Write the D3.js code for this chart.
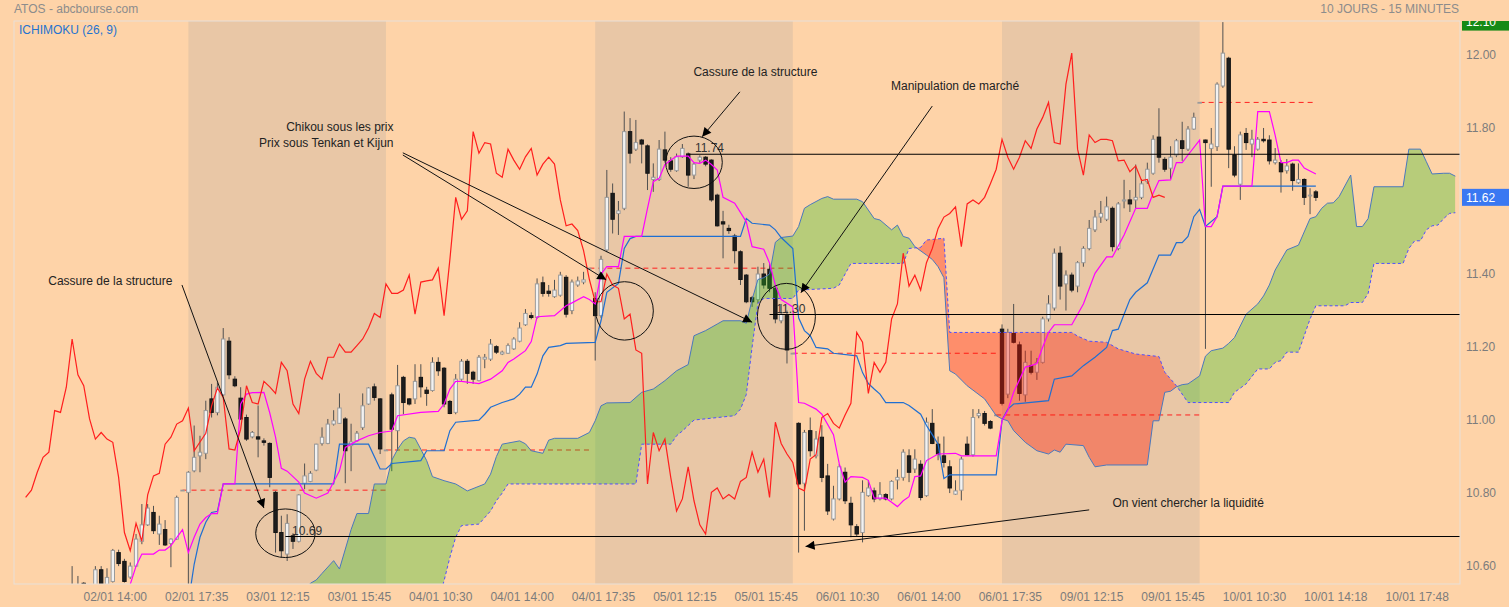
<!DOCTYPE html>
<html>
<head>
<meta charset="utf-8">
<script src="https://cdn.jsdelivr.net/npm/d3@7"></script>
<style>
  body { margin: 0; background: #fed3a8; }
  svg { display: block; font-family: Arial, "Liberation Sans", sans-serif; }
</style>
</head>
<body>
<svg id="chart" width="1509" height="607"></svg>
<script>
// --- data: one candle per 15 min slot, slot 15 .. 229 ---
const firstSlot = 15;
const opens = [10.53,10.52,10.553,10.50,10.53,10.59,10.54,10.558,10.637,10.613,10.57,10.60,10.668,10.713,10.747,10.688,10.70,10.662,10.674,10.808,
  10.802,10.861,10.902,10.909,11.058,11.021,11.069,11.216,11.112,11.06,11.007,10.954,10.954,10.943,10.936,10.802,10.692,10.633,10.683,10.668,
  10.827,10.832,10.863,10.936,10.936,10.989,10.991,11.003,10.93,10.943,10.98,11.044,11.091,11.058,10.918,11.069,10.971,11.117,11.058,11.058,
  11.117,11.082,11.081,11.158,11.142,11.051,11.021,11.112,11.161,11.131,11.108,11.167,11.167,11.201,11.181,11.183,11.195,11.216,11.261,11.286,
  11.281,11.376,11.353,11.338,11.342,11.391,11.30,11.37,11.378,11.416,11.333,11.286,11.466,11.621,11.566,11.58,11.79,11.742,11.767,11.751,
  11.659,11.659,11.74,11.71,11.683,11.721,11.729,11.671,11.712,11.72,11.712,11.616,11.543,11.525,11.504,11.461,11.397,11.335,11.33,11.40,
  11.413,11.361,11.272,11.286,11.183,10.991,10.827,10.971,10.902,10.953,10.847,10.729,10.784,10.857,10.772,10.708,10.692,10.793,10.806,10.784,
  10.796,10.784,10.836,10.843,10.902,10.866,10.879,10.793,10.991,10.934,10.902,10.872,10.797,10.808,10.934,10.905,11.012,11.018,10.996,11.014,
  11.249,11.071,11.237,11.206,11.069,11.149,11.131,11.158,11.277,11.307,11.457,11.373,11.397,11.367,11.431,11.47,11.521,11.556,11.55,11.58,
  11.47,11.60,11.603,11.603,11.61,11.653,11.676,11.775,11.714,11.69,11.726,11.765,11.742,11.797,11.87,11.767,11.744,11.749,11.915,11.991,
  11.726,11.646,11.785,11.756,11.742,11.769,11.767,11.705,11.705,11.683,11.701,11.65,11.659,11.616,11.625];
const highs = [10.60,10.573,10.556,10.54,10.60,10.60,10.594,10.647,10.645,10.62,10.61,10.688,10.77,10.77,10.765,10.738,10.726,10.676,10.793,10.808,
  10.86,10.985,10.957,11.053,11.099,11.103,11.252,11.227,11.12,11.09,11.015,10.97,11.04,10.95,10.939,10.806,10.738,10.742,10.69,10.797,
  10.881,10.86,10.935,10.98,11.003,11.027,11.073,11.008,10.99,10.97,11.073,11.09,11.10,11.06,10.918,11.075,11.151,11.121,11.06,11.153,
  11.153,11.091,11.172,11.172,11.145,11.055,11.126,11.167,11.167,11.135,11.178,11.181,11.222,11.205,11.19,11.21,11.227,11.268,11.304,11.295,
  11.388,11.393,11.37,11.384,11.406,11.397,11.385,11.393,11.406,11.416,11.35,11.45,11.685,11.648,11.60,11.845,11.827,11.822,11.77,11.755,
  11.703,11.767,11.79,11.72,11.73,11.756,11.733,11.705,11.725,11.723,11.714,11.62,11.573,11.535,11.51,11.465,11.40,11.34,11.42,11.43,
  11.43,11.37,11.318,11.30,11.183,10.994,10.973,11.007,10.97,10.986,10.88,10.82,10.88,10.87,10.79,10.715,10.835,10.835,10.815,10.83,
  10.80,10.835,10.865,10.92,10.92,10.92,10.89,11.007,11.03,10.955,10.955,10.89,10.835,10.90,10.955,11.03,11.03,11.025,11.0,11.014,
  11.262,11.25,11.318,11.215,11.19,11.19,11.17,11.283,11.342,11.47,11.476,11.41,11.404,11.435,11.476,11.548,11.575,11.60,11.612,11.585,
  11.597,11.658,11.63,11.70,11.66,11.705,11.78,11.854,11.72,11.75,11.77,11.817,11.805,11.842,11.87,11.768,11.80,11.925,12.09,11.995,
  11.75,11.79,11.80,11.795,11.775,11.80,11.78,11.745,11.712,11.715,11.705,11.703,11.662,11.635,11.63];
const lows = [10.47,10.48,10.50,10.48,10.52,10.53,10.53,10.555,10.60,10.555,10.565,10.598,10.66,10.71,10.688,10.658,10.655,10.597,10.672,10.808,
  10.40,10.857,10.857,10.893,11.007,11.013,11.066,11.112,11.09,11.0,10.943,10.95,10.898,10.93,10.816,10.637,10.623,10.614,10.647,10.665,
  10.811,10.83,10.86,10.93,10.934,10.985,10.99,10.827,10.86,10.94,10.973,11.042,11.053,10.907,10.918,10.86,10.916,11.016,11.04,11.044,
  11.062,11.039,11.078,11.121,11.035,11.016,11.016,11.108,11.099,11.099,11.106,11.142,11.162,11.181,11.178,11.181,11.192,11.213,11.258,11.276,
  11.278,11.338,11.338,11.335,11.338,11.281,11.29,11.365,11.372,11.416,11.163,11.28,11.46,11.511,11.507,11.575,11.703,11.737,11.703,11.63,
  11.625,11.655,11.705,11.68,11.68,11.718,11.639,11.66,11.705,11.695,11.598,11.53,11.443,11.51,11.429,11.37,11.32,11.31,11.32,11.36,
  11.35,11.265,11.265,11.155,11.183,10.637,10.697,10.90,10.895,10.83,10.74,10.725,10.78,10.77,10.679,10.68,10.665,10.79,10.775,10.78,
  10.78,10.78,10.81,10.834,10.83,10.855,10.78,10.79,10.934,10.89,10.87,10.80,10.795,10.78,10.903,10.90,11.005,10.985,10.975,11.014,
  11.04,11.06,11.21,11.053,11.05,11.125,11.11,11.155,11.27,11.30,11.33,11.30,11.35,11.35,11.42,11.465,11.515,11.54,11.545,11.462,
  11.465,11.58,11.57,11.58,11.605,11.647,11.672,11.705,11.68,11.66,11.72,11.71,11.737,11.795,11.87,11.195,11.639,11.737,11.91,11.69,
  11.665,11.603,11.74,11.72,11.738,11.76,11.70,11.70,11.623,11.675,11.628,11.647,11.589,11.564,11.60];
const closes = [10.50,10.54,10.52,10.53,10.59,10.54,10.569,10.643,10.607,10.558,10.60,10.674,10.713,10.759,10.697,10.715,10.658,10.674,10.788,10.808,
  10.857,10.898,10.912,11.026,11.021,11.09,11.222,11.124,11.094,11.003,10.948,10.966,10.948,10.939,10.843,10.692,10.642,10.717,10.668,10.795,
  10.847,10.854,10.934,10.953,10.989,10.998,11.033,10.916,10.94,10.964,11.039,11.088,11.062,10.921,10.918,10.975,11.094,11.048,11.044,11.106,
  11.091,11.073,11.158,11.135,11.044,11.018,11.112,11.161,11.128,11.112,11.172,11.172,11.208,11.186,11.186,11.204,11.222,11.252,11.292,11.281,
  11.373,11.347,11.347,11.356,11.397,11.29,11.378,11.381,11.384,11.416,11.286,11.44,11.61,11.55,11.573,11.79,11.731,11.76,11.756,11.676,
  11.665,11.742,11.712,11.687,11.721,11.744,11.671,11.701,11.72,11.701,11.603,11.532,11.537,11.519,11.464,11.385,11.324,11.324,11.40,11.37,
  11.361,11.277,11.29,11.192,11.183,10.825,10.966,10.916,10.948,10.843,10.751,10.784,10.872,10.779,10.713,10.688,10.802,10.814,10.784,10.796,
  10.784,10.832,10.843,10.912,10.857,10.893,10.788,10.994,10.936,10.907,10.884,10.814,10.806,10.893,10.905,11.007,11.018,10.991,10.978,11.014,
  11.046,11.24,11.213,11.073,11.158,11.131,11.158,11.277,11.318,11.457,11.367,11.397,11.356,11.431,11.47,11.525,11.556,11.566,11.584,11.475,
  11.592,11.603,11.592,11.61,11.647,11.687,11.769,11.72,11.687,11.72,11.765,11.744,11.797,11.829,11.87,11.76,11.756,11.92,12.005,11.742,
  11.671,11.781,11.76,11.769,11.769,11.765,11.71,11.712,11.68,11.696,11.656,11.659,11.61,11.616,11.61];

// closing-auction bars: the dashed red line holds that close through the next session
const closingSlots = [34, 69, 104, 139, 174, 209];
const shadedDays = [[35, 69], [105, 139], [175, 209]];
const chikouShift = 26;

// Ichimoku lines, [slot, price]
const tenkan = [[24,10.50],[25,10.55],[26,10.60],[27,10.633],[29,10.633],[30,10.644],[31,10.644],[32,10.656],[34,10.70],[35,10.637],
  [36,10.679],[37,10.715],[38,10.733],[39,10.744],[40,10.744],[41,10.825],[43,10.825],[44,11.044],[45,11.071],[46,11.075],[48,11.076],
  [49,11.02],[50,10.953],[51,10.868],[52,10.86],[54,10.83],[55,10.80],[57,10.786],[59,10.80],[61,10.861],[62,10.925],[64,10.943],
  [66,10.957],[68,10.966],[70,10.97],[71,11.012],[75,11.021],[78,11.024],[79,11.044],[80,11.085],[81,11.106],[82,11.106],[85,11.10],
  [87,11.112],[89,11.135],[90,11.158],[91,11.167],[93,11.19],[94,11.215],[95,11.283],[98,11.286],[100,11.313],[101,11.321],[103,11.338],
  [104,11.33],[105,11.318],[106,11.40],[107,11.42],[109,11.42],[110,11.503],[113,11.503],[114,11.58],[115,11.653],[116,11.662],[117,11.70],
  [119,11.723],[121,11.723],[122,11.705],[123,11.703],[124,11.712],[125,11.70],[126,11.685],[127,11.61],[129,11.594],[131,11.543],
  [132,11.475],[134,11.468],[135,11.43],[136,11.37],[137,11.33],[139,11.31],[140,11.048],[141,11.046],[143,11.03],[144,11.016],
  [146,10.96],[147,10.88],[148,10.83],[149,10.845],[151,10.843],[152,10.835],[153,10.786],[155,10.786],[156,10.775],[157,10.763],
  [158,10.779],[159,10.79],[160,10.845],[161,10.847],[162,10.889],[164,10.907],[167,10.909],[168,10.902],[174,10.902],[175,10.998],
  [176,11.027],[177,11.076],[179,11.145],[180,11.149],[181,11.155],[182,11.20],[183,11.24],[184,11.261],[187,11.261],[189,11.318],
  [191,11.402],[193,11.447],[194,11.447],[196,11.507],[198,11.58],[200,11.58],[201,11.621],[202,11.656],[204,11.658],[205,11.705],
  [206,11.705],[207,11.726],[209,11.767],[210,11.53],[211,11.53],[212,11.557],[213,11.641],[218,11.641],[219,11.845],[221,11.845],
  [222,11.78],[223,11.705],[224,11.705],[225,11.712],[226,11.712],[227,11.69],[229,11.674]];

const kijun = [[35,10.50],[36,10.605],[37,10.679],[38,10.72],[39,10.747],[40,10.75],[41,10.825],[60,10.825],[61,10.934],[66,10.934],
  [68,10.866],[69,10.866],[70,10.881],[75,10.889],[76,10.916],[79,10.916],[80,10.971],[81,10.994],[85,11.0],[86,11.016],[87,11.035],
  [89,11.048],[91,11.058],[92,11.071],[93,11.09],[94,11.09],[95,11.126],[96,11.176],[97,11.199],[99,11.204],[100,11.21],[105,11.213],
  [106,11.272],[107,11.35],[109,11.374],[110,11.47],[111,11.497],[112,11.503],[130,11.503],[131,11.552],[132,11.539],[135,11.534],
  [136,11.521],[137,11.50],[139,11.47],[140,11.28],[141,11.245],[142,11.231],[143,11.199],[145,11.195],[146,11.183],[150,11.176],
  [151,11.13],[152,11.10],[153,11.085],[154,11.071],[155,11.048],[158,11.048],[159,11.04],[161,11.016],[162,10.985],[163,10.96],
  [164,10.934],[165,10.84],[166,10.85],[174,10.85],[175,11.0],[176,11.03],[177,11.044],[183,11.053],[184,11.112],[187,11.121],
  [189,11.149],[191,11.172],[193,11.199],[194,11.245],[195,11.249],[196,11.29],[197,11.33],[198,11.35],[200,11.376],[202,11.452],
  [204,11.452],[205,11.486],[206,11.486],[207,11.503],[208,11.557],[209,11.577],[210,11.53],[212,11.557],[213,11.641],[229,11.641]];

const senkouA = [[53,10.50],[56,10.553],[57,10.562],[58,10.58],[60,10.615],[61,10.592],[63,10.70],[64,10.744],[66,10.744],[67,10.825],
  [69,10.825],[70,10.89],[71,10.92],[72,10.943],[73,10.953],[74,10.95],[75,10.92],[76,10.889],[77,10.845],[79,10.834],[81,10.825],
  [83,10.806],[86,10.825],[87,10.852],[88,10.90],[89,10.934],[92,10.943],[93,10.935],[94,10.916],[96,10.909],[97,10.945],[98,10.95],
  [102,10.95],[104,10.966],[105,10.998],[106,11.039],[107,11.047],[111,11.048],[113,11.076],[115,11.085],[117,11.108],[119,11.135],
  [121,11.152],[122,11.231],[124,11.245],[126,11.263],[127,11.272],[130,11.272],[131,11.265],[132,11.33],[133,11.385],[134,11.39],
  [135,11.40],[136,11.487],[137,11.50],[139,11.504],[140,11.53],[141,11.58],[142,11.59],[144,11.607],[145,11.612],[146,11.605],
  [150,11.605],[151,11.598],[153,11.552],[154,11.548],[156,11.521],[157,11.534],[158,11.503],[159,11.498],[160,11.475],[162,11.452],
  [163,11.44],[164,11.42],[165,11.39],[166,11.135],[167,11.126],[169,11.094],[172,11.058],[173,11.035],[174,11.012],[175,11.003],
  [176,10.998],[177,10.971],[179,10.939],[181,10.916],[183,10.907],[184,10.918],[185,10.912],[186,10.934],[189,10.93],[190,10.898],
  [191,10.872],[193,10.877],[200,10.877],[201,10.998],[202,10.998],[203,11.076],[204,11.079],[205,11.091],[206,11.097],[207,11.099],
  [209,11.121],[210,11.175],[211,11.19],[213,11.197],[214,11.21],[215,11.226],[217,11.29],[219,11.318],[220,11.34],[221,11.37],
  [222,11.411],[224,11.466],[226,11.479],[228,11.552],[229,11.557],[230,11.58],[231,11.594],[232,11.595],[233,11.612],[235,11.671],
  [236,11.53],[237,11.53],[238,11.552],[239,11.639],[244,11.639],[245,11.742],[247,11.742],[248,11.708],[249,11.674],[251,11.676],
  [252,11.676],[253,11.668]];

const senkouB = [[53,10.45],[78,10.50],[79,10.56],[80,10.624],[81,10.679],[82,10.711],[85,10.715],[86,10.733],[87,10.751],[88,10.779],
  [89,10.80],[90,10.825],[112,10.825],[113,10.934],[118,10.934],[119,10.957],[120,10.97],[121,10.985],[122,11.00],[129,11.012],
  [130,11.03],[131,11.07],[132,11.20],[133,11.32],[134,11.333],[139,11.333],[140,11.356],[146,11.361],[147,11.37],[148,11.40],
  [149,11.429],[158,11.429],[159,11.47],[161,11.473],[162,11.493],[165,11.498],[166,11.24],[187,11.24],[188,11.23],[190,11.216],
  [193,11.213],[195,11.195],[198,11.181],[202,11.174],[203,11.131],[205,11.094],[207,11.048],[214,11.048],[215,11.076],[217,11.099],
  [219,11.14],[221,11.14],[222,11.158],[223,11.163],[224,11.186],[226,11.186],[227,11.231],[228,11.277],[229,11.313],[234,11.313],
  [235,11.322],[237,11.322],[238,11.347],[239,11.429],[244,11.429],[245,11.47],[246,11.491],[247,11.491],[248,11.521],[249,11.532],
  [250,11.534],[251,11.552],[252,11.566],[253,11.568]];

const xTickSlots = [22, 36, 50, 64, 78, 92, 106, 120, 134, 148, 162, 176, 190, 204, 218, 232, 246];
const xTickLabels = ["02/01 14:00","02/01 17:35","03/01 12:15","03/01 15:45","04/01 10:30","04/01 14:00","04/01 17:35",
  "05/01 12:15","05/01 15:45","06/01 10:30","06/01 14:00","06/01 17:35","09/01 12:15","09/01 15:45","10/01 10:30",
  "10/01 14:18","10/01 17:48"];
const yTickValues = [10.6, 10.8, 11.0, 11.2, 11.4, 11.8, 12.0];
const lastPriceLabel = "11.62";
const highLabel = "12.10";

// hand-drawn annotations, in [slot, price]
const levels = [
  {slot: 51.7, value: 10.681, label: "10.69"},
  {slot: 121, value: 11.728, label: "11.74"},
  {slot: 135, value: 11.289, label: "11.30"}
];
const circles = [[51.7, 10.69], [122, 11.706], [110.05, 11.299], [137.9, 11.284]];
const notes = [
  {slot: 10.9, value: 11.370, anchor: "start", text: "Cassure de la structure"},
  {slot: 70.3, value: 11.792, anchor: "end", text: "Chikou sous les prix"},
  {slot: 70.3, value: 11.748, anchor: "end", text: "Prix sous Tenkan et Kijun"},
  {slot: 121.9, value: 11.941, anchor: "start", text: "Cassure de la structure"},
  {slot: 155.9, value: 11.903, anchor: "start", text: "Manipulation de marché"},
  {slot: 194.0, value: 10.761, anchor: "start", text: "On vient chercher la liquidité"}
];
const arrows = [
  [[33.9, 11.370], [48.0, 10.759]],
  [[71.9, 11.732], [132.0, 11.268]],
  [[71.9, 11.726], [106.9, 11.384]],
  [[129.9, 11.899], [123.4, 11.776]],
  [[163.0, 11.860], [140.4, 11.349]],
  [[190.0, 10.754], [141.2, 10.654]]
];

// --- layout ---
const svg = d3.select("#chart");
const pLeft = 14, pRight = 1460, pTop = 21, pBottom = 584;

const x = d3.scaleLinear().domain([5, 253.8]).range([pLeft, pRight]);
const y = d3.scaleLinear().domain([10.551, 12.093]).range([pBottom, pTop]);

svg.append("rect").attr("width", 1509).attr("height", 607).attr("fill", "#fed3a8");

const defs = svg.append("defs");
defs.append("clipPath").attr("id", "plot")
  .append("rect").attr("x", pLeft).attr("y", pTop).attr("width", pRight - pLeft).attr("height", pBottom - pTop);
defs.append("clipPath").attr("id", "axisclip")
  .append("rect").attr("x", pRight).attr("y", pTop).attr("width", 49).attr("height", 607 - pTop);
defs.append("marker").attr("id", "head")
  .attr("viewBox", "0 0 10 10").attr("refX", 10).attr("refY", 5)
  .attr("markerWidth", 11).attr("markerHeight", 9).attr("markerUnits", "userSpaceOnUse")
  .attr("orient", "auto")
  .append("path").attr("d", "M0,0L10,5L0,10z").attr("fill", "#000");

const g = svg.append("g").attr("clip-path", "url(#plot)");

// alternate sessions
g.selectAll("rect.day").data(shadedDays).join("rect")
  .attr("class", "day")
  .attr("x", d => x(d[0])).attr("width", d => x(d[1]) - x(d[0]))
  .attr("y", pTop).attr("height", pBottom - pTop)
  .attr("fill", "#e9c7a6");

// previous close, dashed
const lastSlot = firstSlot + closes.length - 1;
const prevClose = closingSlots.map((s, i) => ({
  from: s, to: i < closingSlots.length - 1 ? closingSlots[i + 1] : lastSlot,
  value: closes[s - firstSlot]
}));
g.selectAll("line.prev").data(prevClose).join("line")
  .attr("class", "prev")
  .attr("x1", d => x(d.from)).attr("x2", d => x(d.to))
  .attr("y1", d => y(d.value)).attr("y2", d => y(d.value))
  .attr("stroke", "#ff2020").attr("stroke-dasharray", "5,4");

// candles
const candles = opens.map((o, k) => ({slot: firstSlot + k, o, h: highs[k], l: lows[k], c: closes[k]}));
const bodyW = 3.4;
g.selectAll("line.wick").data(candles).join("line")
  .attr("class", "wick")
  .attr("x1", d => x(d.slot)).attr("x2", d => x(d.slot))
  .attr("y1", d => y(d.h)).attr("y2", d => y(d.l))
  .attr("stroke", "#505050");
g.selectAll("rect.body").data(candles).join("rect")
  .attr("class", "body")
  .attr("x", d => x(d.slot) - bodyW / 2).attr("width", bodyW)
  .attr("y", d => y(Math.max(d.o, d.c)))
  .attr("height", d => Math.max(0.8, Math.abs(y(d.o) - y(d.c))))
  .attr("fill", d => d.c >= d.o ? "#f2f2f2" : "#1e1e1e")
  .attr("stroke", d => d.c >= d.o ? "#9a9a9a" : "#141414");

// kumo: green where A is above B, red where B is above A
const below = d3.area().x(d => x(d[0])).y0(pBottom + 60).y1(d => y(d[1]));
const above = d3.area().x(d => x(d[0])).y0(pTop - 60).y1(d => y(d[1]));
defs.append("clipPath").attr("id", "aboveB").append("path").attr("d", above(senkouB));
defs.append("clipPath").attr("id", "aboveA").append("path").attr("d", above(senkouA));
g.append("g").attr("clip-path", "url(#aboveB)")
  .append("path").attr("d", below(senkouA))
  .attr("fill", "rgb(40,190,30)").attr("fill-opacity", 0.33);
g.append("g").attr("clip-path", "url(#aboveA)")
  .append("path").attr("d", below(senkouB))
  .attr("fill", "rgb(255,20,0)").attr("fill-opacity", 0.36);

const line = d3.line().x(d => x(d[0])).y(d => y(d[1]));
g.append("path").attr("d", line(senkouA)).attr("fill", "none").attr("stroke", "#4a78bd").attr("stroke-width", 1);
g.append("path").attr("d", line(senkouB)).attr("fill", "none").attr("stroke", "#4f4fff")
  .attr("stroke-width", 1).attr("stroke-dasharray", "3,2.5");
g.append("path").attr("d", line(kijun)).attr("fill", "none").attr("stroke", "#1f6fd2").attr("stroke-width", 1.2);
g.append("path").attr("d", line(tenkan)).attr("fill", "none").attr("stroke", "#ff00ff").attr("stroke-width", 1.2);

const chikou = candles.map(d => [d.slot - chikouShift, d.c]).filter(d => d[0] >= 7);
g.append("path").attr("d", line(chikou)).attr("fill", "none").attr("stroke", "#ff1e1e").attr("stroke-width", 1.2);

// annotations
const ann = svg.append("g");
ann.selectAll("line.level").data(levels).join("line")
  .attr("class", "level")
  .attr("x1", d => x(d.slot)).attr("x2", pRight)
  .attr("y1", d => y(d.value)).attr("y2", d => y(d.value))
  .attr("stroke", "#000").attr("stroke-width", 1.1);
ann.selectAll("text.level").data(levels).join("text")
  .attr("class", "level")
  .attr("x", d => x(d.slot) + 6.7).attr("y", d => y(d.value) - 1.8)
  .attr("font-size", 12).attr("fill", "#333").text(d => d.label);

const radii = [[29.7, 24.3], [28.3, 26.2], [28.8, 29.2], [29, 33]];
ann.selectAll("ellipse").data(circles).join("ellipse")
  .attr("cx", d => x(d[0])).attr("cy", d => y(d[1]))
  .attr("rx", (d, i) => radii[i][0]).attr("ry", (d, i) => radii[i][1])
  .attr("fill", "none").attr("stroke", "#111").attr("stroke-width", 1);

ann.selectAll("line.arrow").data(arrows).join("line")
  .attr("class", "arrow")
  .attr("x1", d => x(d[0][0])).attr("y1", d => y(d[0][1]))
  .attr("x2", d => x(d[1][0])).attr("y2", d => y(d[1][1]))
  .attr("stroke", "#111").attr("stroke-width", 1).attr("marker-end", "url(#head)");

ann.selectAll("text.note").data(notes).join("text")
  .attr("class", "note")
  .attr("x", d => x(d.slot)).attr("y", d => y(d.value))
  .attr("text-anchor", d => d.anchor)
  .attr("font-size", 12).attr("fill", "#222").text(d => d.text);

// frame
svg.append("rect").attr("x", pLeft).attr("y", pTop).attr("width", pRight - pLeft).attr("height", pBottom - pTop)
  .attr("fill", "none").attr("stroke", "#e8e0d8");

// axes
const xAxis = svg.append("g").attr("transform", `translate(0,${pBottom})`)
  .call(d3.axisBottom(x).tickValues(xTickSlots).tickFormat((d, i) => xTickLabels[i]).tickSize(0).tickPadding(8));
xAxis.select(".domain").remove();
xAxis.selectAll("text").attr("dx", 2).attr("fill", "#7c7c7c")
  .attr("font-size", 12).attr("font-family", "Arial, 'Liberation Sans', sans-serif");

const yAxis = svg.append("g").attr("transform", `translate(${pRight},0)`)
  .call(d3.axisRight(y).tickValues(yTickValues).tickFormat(d3.format(".2f")).tickSize(0).tickPadding(6));
yAxis.select(".domain").remove();
yAxis.selectAll("text").attr("fill", "#7c7c7c")
  .attr("font-size", 12).attr("font-family", "Arial, 'Liberation Sans', sans-serif");

// price tags
const tags = svg.append("g").attr("clip-path", "url(#axisclip)");
const hiY = y(d3.max(highs));
tags.append("rect").attr("x", pRight + 2).attr("y", hiY - 8.5).attr("width", 47).attr("height", 17).attr("fill", "#168a16");
tags.append("text").attr("x", pRight + 6).attr("y", hiY + 4.2).attr("fill", "#fff").attr("font-size", 12).text(highLabel);
const lastY = y(closes[closes.length - 1]);
tags.append("rect").attr("x", pRight + 2).attr("y", lastY - 8.5).attr("width", 47).attr("height", 17).attr("fill", "#3a78f2");
tags.append("text").attr("x", pRight + 6).attr("y", lastY + 4.2).attr("fill", "#fff").attr("font-size", 12).text(lastPriceLabel);

// titles
svg.append("text").attr("x", 14).attr("y", 13).attr("font-size", 12).attr("fill", "#8c8c8c").text("ATOS - abcbourse.com");
svg.append("text").attr("x", 1459).attr("y", 13).attr("text-anchor", "end").attr("font-size", 12).attr("fill", "#8c8c8c")
  .text("10 JOURS - 15 MINUTES");
svg.append("text").attr("x", 19).attr("y", 33.5).attr("font-size", 12).attr("fill", "#1f74d0").text("ICHIMOKU (26, 9)");
</script>
</body>
</html>
